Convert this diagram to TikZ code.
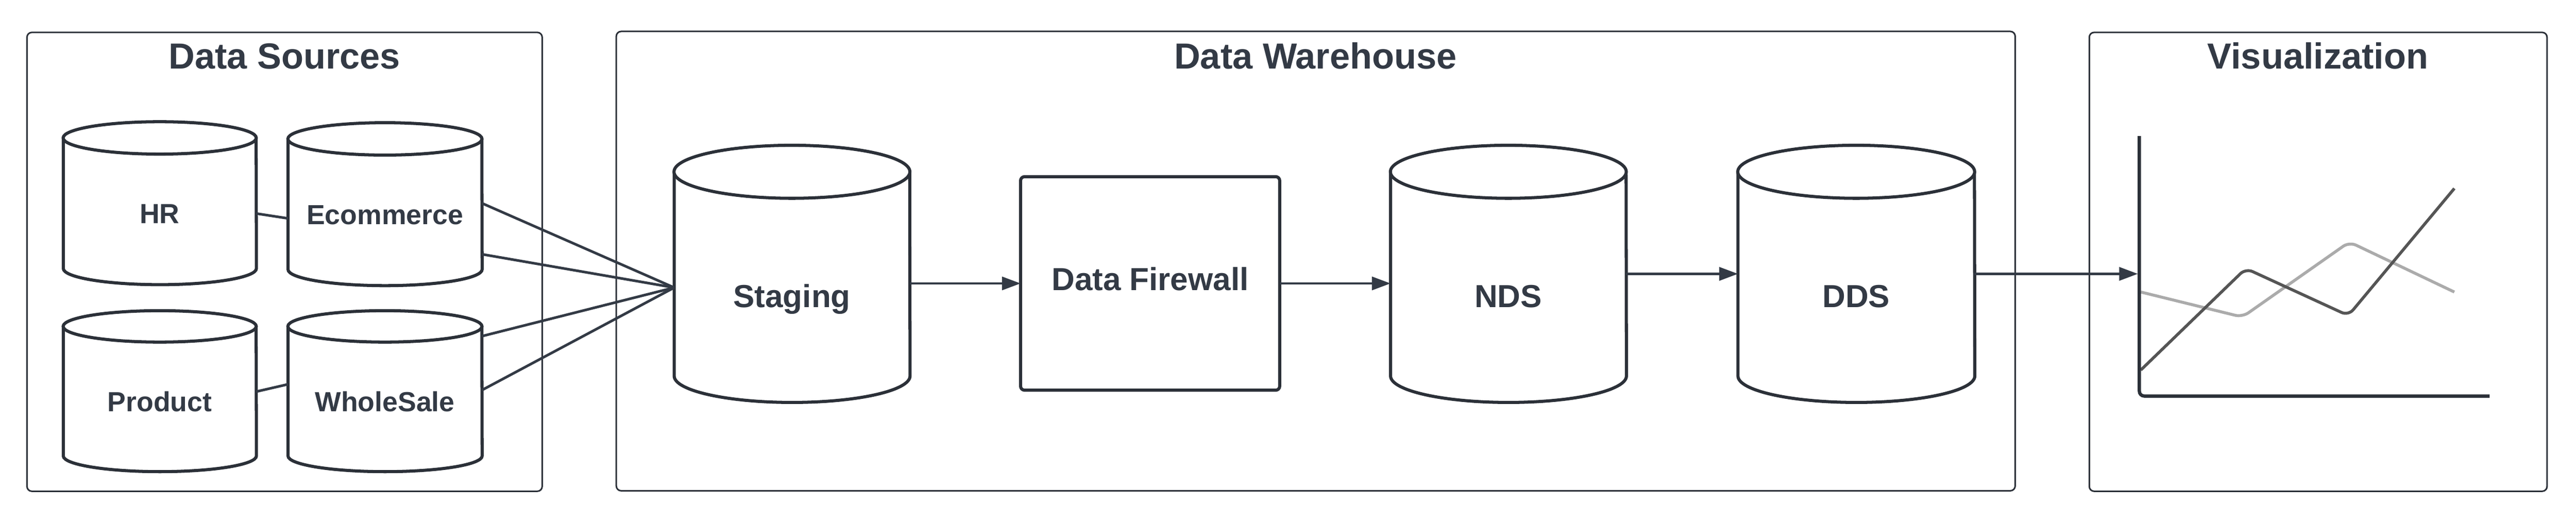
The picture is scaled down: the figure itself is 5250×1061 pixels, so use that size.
\documentclass[tikz,border=0pt]{standalone}
\usepackage{fontspec}
\setmainfont{Liberation Sans}
\usetikzlibrary{arrows.meta,calc}
\definecolor{ink}{HTML}{333A45}
\definecolor{stroke}{HTML}{2B3038}
\definecolor{darkline}{HTML}{555555}
\definecolor{lightline}{HTML}{ABABAB}
\tikzset{
  container/.style={draw=stroke, line width=0.9pt, rounded corners=0.1cm, inner sep=0pt, outer sep=0pt},
  boxtitle/.style={font=\bfseries\fontsize{21}{25}\selectfont, text=ink, anchor=base, inner sep=0pt},
  cylbox/.style={inner sep=0pt, outer sep=0pt, draw=none},
  cylstroke/.style={draw=stroke, fill=white, line width=1.8pt},
  lblsmall/.style={font=\bfseries\fontsize{16}{19}\selectfont, text=ink, anchor=base, inner sep=0pt},
  lblbig/.style={font=\bfseries\fontsize{18.5}{22}\selectfont, text=ink, anchor=base, inner sep=0pt},
  procbox/.style={draw=stroke, fill=white, line width=1.8pt, rounded corners=0.08cm, inner sep=0pt, outer sep=0pt},
  link/.style={draw=ink, line width=1.5pt},
  flow/.style={draw=ink, line width=1.3pt, -{Triangle[length=0.38cm, width=0.27cm]}},
  axisline/.style={draw=stroke, line width=1.9pt, rounded corners=0.1cm},
  series/.style={line width=1.7pt, rounded corners=0.15cm},
}
% name, cx, cy, w, h, ry, label, label baseline y, label style
\newcommand{\dbcyl}[9]{%
  \node[cylbox, minimum width=#4*0.01cm, minimum height=#5*0.01cm] (#1) at (#2,#3) {};
  \draw[cylstroke] (#2-#4/2,#3-#5/2+#6) -- (#2-#4/2,#3+#5/2-#6)
     arc[start angle=180, end angle=360, x radius=#4*0.005cm, y radius=#6*0.01cm]
     -- (#2+#4/2,#3-#5/2+#6);
  \draw[cylstroke] (#2,#3-#5/2+#6) ellipse[x radius=#4*0.005cm, y radius=#6*0.01cm];
  \node[#9] (#1-label) at (#2,#8) {#7};
}
\begin{document}
\begin{tikzpicture}[x=0.01cm, y=-0.01cm]
\useasboundingbox (0,0) rectangle (5250,1061);

% containers
\node[container, minimum width=1050*0.01cm, minimum height=935*0.01cm] (ds) at (580,533.5) {};
\node[boxtitle] (ds-title) at (580,140) {Data Sources};
\node[container, minimum width=2851*0.01cm, minimum height=936*0.01cm] (dw) at (2681.5,532) {};
\node[boxtitle] (dw-title) at (2681,140) {Data Warehouse};
\node[container, minimum width=933*0.01cm, minimum height=935*0.01cm] (vis) at (4724.5,533.5) {};
\node[boxtitle] (vis-title) at (4724,140) {Visualization};

% source databases
\dbcyl{hr}{325.5}{414}{393}{332}{33}{HR}{455}{lblsmall}
\dbcyl{ecom}{784.5}{416}{395}{332}{33}{Ecommerce}{457}{lblsmall}
\dbcyl{prod}{325.5}{797}{393}{328}{32}{Product}{838}{lblsmall}
\dbcyl{whole}{784.5}{797}{395}{328}{32}{WholeSale}{838}{lblsmall}

% warehouse
\dbcyl{stg}{1614}{558}{480}{524}{54}{Staging}{626}{lblbig}
\node[procbox, minimum width=528*0.01cm, minimum height=435*0.01cm] (fw) at (2344,577.5) {};
\node[lblbig] (fw-label) at (2344,592) {Data Firewall};
\dbcyl{nds}{3074}{558}{480}{524}{54}{NDS}{626}{lblbig}
\dbcyl{dds}{3783}{558}{482}{524}{54}{DDS}{626}{lblbig}

% source links
\draw[link] ($(hr.east)+(0,21)$) -- ($(ecom.west)+(0,29)$);
\draw[link] ($(prod.east)+(0,1)$) -- ($(whole.west)+(0,-14)$);
\coordinate (stgin) at ($(stg.west)+(0,28)$);
\draw[link] ($(ecom.east)+(0,-2)$) -- (stgin);
\draw[link] ($(ecom.east)+(0,102)$) -- (stgin);
\draw[link] ($(whole.east)+(0,-112)$) -- (stgin);
\draw[link] ($(whole.east)+(0,-2)$) -- (stgin);

% flow arrows
\draw[flow] (stg.east |- fw.west) -- (fw.west);
\draw[flow] (fw.east) -- (nds.west |- fw.east);
\draw[flow] (nds.east) -- (dds.west);
\coordinate (axin) at (4357,558);
\draw[flow] (dds.east) -- (axin);

% chart
\draw[series, lightline] (4363,595) -- (4570,646) -- (4788,493) -- (5002,595);
\draw[series, darkline] (4363,754) -- (4577,547) -- (4786,643) -- (5002,384);
\draw[axisline] (4360,277) -- (4360,807) -- (5074,807);
\end{tikzpicture}
\end{document}
